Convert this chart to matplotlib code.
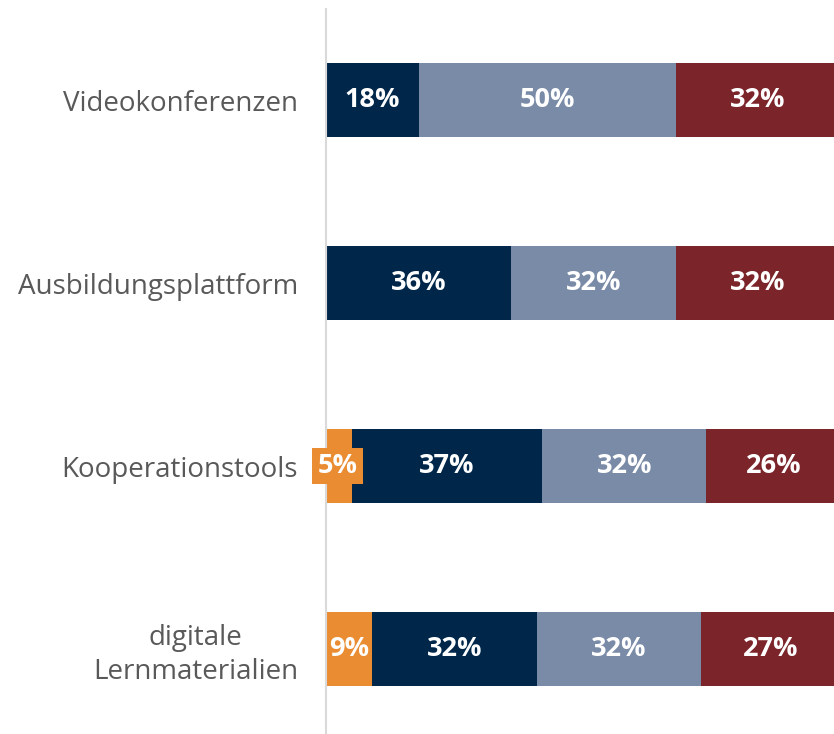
import matplotlib.pyplot as plt
import numpy as np

# Kategorien (von oben nach unten)
kategorien = ["Videokonferenzen", "Ausbildungsplattform", "Kooperationstools", "digitale\nLernmaterialien"]

# Werte je Serie in Prozent
orange = [0, 0, 5, 9]
dunkelblau = [18, 36, 37, 32]
graublau = [50, 32, 32, 32]
dunkelrot = [32, 32, 26, 27]

farben = ["#EA8C32", "#00274A", "#7A8BA7", "#7B242A"]
serien = [orange, dunkelblau, graublau, dunkelrot]

fig = plt.figure(figsize=(8.34, 7.34), dpi=100)
ax = fig.add_axes([326 / 834, -6.5 / 734, (834 - 326) / 834, 732 / 734])

y = np.arange(len(kategorien))
links = np.zeros(len(kategorien))
for i, (werte, farbe) in enumerate(zip(serien, farben)):
    werte = np.array(werte, dtype=float)
    ax.barh(y, werte, left=links, height=0.405, color=farbe, edgecolor="none")
    for j, w in enumerate(werte):
        if w <= 0:
            continue
        mitte = links[j] + w / 2
        if w < 7:
            # Label passt nicht in den Balken -> Kasten in Balkenfarbe
            ax.text(mitte - 0.2, j, f"{int(w)}%", ha="center", va="center", color="white",
                    fontsize=19.5, fontweight="bold", family="Open Sans",
                    bbox=dict(boxstyle="square,pad=0.2", facecolor=farbe, edgecolor="none"))
        else:
            ax.text(mitte, j, f"{int(w)}%", ha="center", va="center", color="white",
                    fontsize=19.5, fontweight="bold", family="Open Sans")
    links += werte

ax.set_xlim(0, 98.8)
ax.set_ylim(3.5, -0.5)
ax.set_yticks(y)
ax.set_yticklabels(kategorien, fontsize=20, color="#595959", family="Open Sans", linespacing=1.25)
ax.tick_params(axis="y", length=0, pad=20)
ax.set_xticks([])
for s in ["top", "right", "bottom"]:
    ax.spines[s].set_visible(False)
ax.spines["left"].set_color("#D9D9D9")
ax.spines["left"].set_linewidth(1.5)
for lbl in ax.get_yticklabels():
    lbl.set_multialignment("center")

fig.savefig("out.png", dpi=100)
